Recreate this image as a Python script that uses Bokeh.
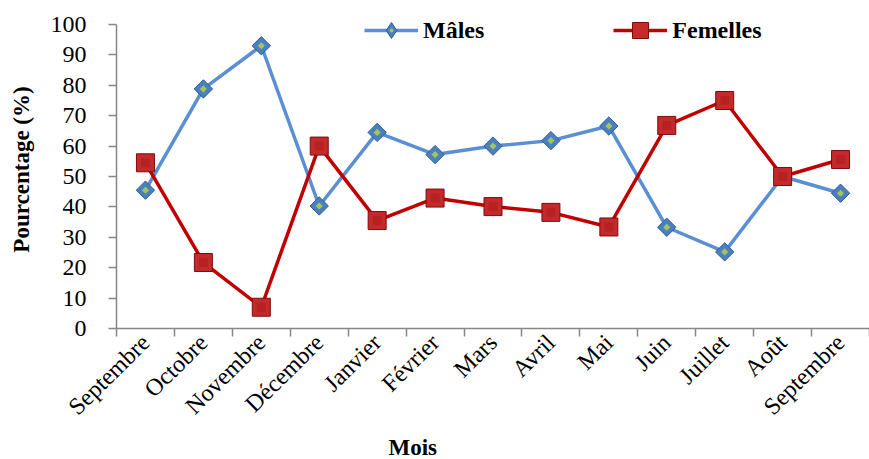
import numpy as np
from bokeh.plotting import figure
from bokeh.models import Range1d, FixedTicker, Legend, LegendItem, Title
from bokeh.embed import file_html
from bokeh.resources import INLINE

months = ["Septembre", "Octobre", "Novembre", "Décembre", "Janvier", "Février",
          "Mars", "Avril", "Mai", "Juin", "Juillet", "Août", "Septembre"]
males = [45.5, 78.8, 93.0, 40.3, 64.5, 57.2, 60.0, 61.8, 66.6, 33.3, 25.2, 50.0, 44.5]
femelles = [54.5, 21.7, 7.0, 60.0, 35.5, 42.9, 40.1, 38.2, 33.4, 66.8, 75.0, 50.0, 55.6]
y_ticks = [0, 10, 20, 30, 40, 50, 60, 70, 80, 90, 100]

FONT = "Liberation Serif"
xs = list(range(1, len(months) + 1))

p = figure(width=869, height=459, x_range=Range1d(0.5, len(months) + 0.5),
           y_range=Range1d(0, 104.6), output_backend="svg", toolbar_location=None,
           min_border_left=116, min_border_right=0, min_border_top=10,
           min_border_bottom=130)
p.outline_line_color = None
p.xgrid.visible = False
p.ygrid.visible = False
p.background_fill_color = "white"

AX = "#878787"
# y axis
p.yaxis.ticker = FixedTicker(ticks=y_ticks)
p.yaxis.bounds = (0, 100)
p.yaxis.axis_line_color = AX
p.yaxis.axis_line_width = 1.5
p.yaxis.major_tick_line_color = AX
p.yaxis.major_tick_line_width = 1.5
p.yaxis.major_tick_out = 8
p.yaxis.major_tick_in = 0
p.yaxis.minor_tick_line_color = None
p.yaxis.major_label_text_font = FONT
p.yaxis.major_label_text_font_size = "24px"
p.yaxis.major_label_text_color = "black"
p.yaxis.major_label_standoff = 22
p.yaxis.axis_label = "Pourcentage (%)"
p.yaxis.axis_label_text_font = FONT
p.yaxis.axis_label_text_font_size = "23px"
p.yaxis.axis_label_text_font_style = "bold"
p.yaxis.axis_label_text_color = "black"
p.yaxis.axis_label_standoff = 14

# x axis
p.xaxis.ticker = FixedTicker(ticks=xs, minor_ticks=[x - 0.5 for x in xs] + [xs[-1] + 0.5])
p.xaxis.major_label_overrides = {x: m for x, m in zip(xs, months)}
p.xaxis.axis_line_color = AX
p.xaxis.axis_line_width = 1.5
p.xaxis.major_tick_line_color = None
p.xaxis.major_tick_out = 0
p.xaxis.major_tick_in = 0
p.xaxis.minor_tick_line_color = AX
p.xaxis.minor_tick_line_width = 1.5
p.xaxis.minor_tick_out = 8
p.xaxis.minor_tick_in = 0
p.xaxis.major_label_orientation = 0.78
p.xaxis.major_label_text_font = FONT
p.xaxis.major_label_text_font_size = "24px"
p.xaxis.major_label_text_color = "black"
p.xaxis.major_label_standoff = 2

p.add_layout(Title(text="Mois", align="left", offset=272, text_font=FONT,
                   text_font_size="23px", text_font_style="bold",
                   text_color="black", standoff=0), "below")

# series
BLUE = "#5A8FD3"
RED = "#C00000"
# tiny legend-only markers, hidden under the first real point
sm_leg = p.scatter(xs[:1], males[:1], marker="diamond", size=1,
                   fill_color="#4A7FC0", line_color="#2D5E96", line_width=1)
sm_leg2 = p.scatter(xs[:1], males[:1], marker="dot", size=1,
                    line_color="#A4C45C", fill_color="#A4C45C")
lm = p.line(xs, males, line_color=BLUE, line_width=3.5)
sm = p.scatter(xs, males, marker="square", angle=np.pi / 4, size=13,
               fill_color="#4A7FC0", line_color="#2D5E96", line_width=1)
sm2 = p.scatter(xs, males, marker="square", angle=np.pi / 4, size=5,
                fill_color="#A4C45C", line_color=None)

lf = p.line(xs, femelles, line_color=RED, line_width=3.5)
sf = p.scatter(xs, femelles, marker="square", size=18,
               fill_color="#C42A2C", line_color="#7E0C0C", line_width=1)
sf2 = p.scatter(xs, femelles, marker="square", size=9,
                fill_color="#B3201F", line_color=None, fill_alpha=0.8)

legend = Legend(items=[LegendItem(label="Mâles", renderers=[lm, sm_leg, sm_leg2]),
                       LegendItem(label="Femelles", renderers=[lf, sf])],
                location=(248, 278), orientation="horizontal",
                glyph_width=54, glyph_height=40, label_standoff=5, spacing=129,
                padding=0, margin=0,
                label_text_font=FONT, label_text_font_size="24px",
                label_text_font_style="bold", label_text_color="black",
                border_line_color=None, background_fill_alpha=0)
p.add_layout(legend, "center")

open("out.html", "w").write(file_html(p, INLINE))
